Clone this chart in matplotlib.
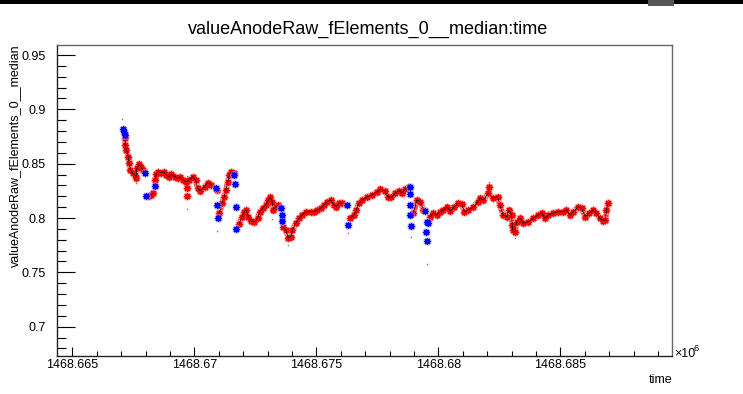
import matplotlib
matplotlib.use("Agg")
import matplotlib.pyplot as plt
from matplotlib.ticker import FixedLocator, FixedFormatter, MultipleLocator
import matplotlib.patches as mpatches

plt.rcParams['font.family'] = ['Liberation Sans', 'DejaVu Sans']

# ---- data (time in units of 10^6 s) ----
time = [
    1468.66708, 1468.66711, 1468.66714, 1468.66716, 1468.66716, 1468.66722, 1468.66729, 1468.66733,
    1468.66738, 1468.66747, 1468.66756, 1468.66760, 1468.66765, 1468.66773, 1468.66783, 1468.66790,
    1468.66799, 1468.66804, 1468.66814, 1468.66824, 1468.66831, 1468.66837, 1468.66840, 1468.66844,
    1468.66851, 1468.66865, 1468.66874, 1468.66885, 1468.66896, 1468.66906, 1468.66919, 1468.66933,
    1468.66940, 1468.66953, 1468.66967, 1468.66978, 1468.66994, 1468.67005, 1468.67014, 1468.67024,
    1468.67042, 1468.67055, 1468.67069, 1468.67087, 1468.67092, 1468.67092, 1468.67096, 1468.67103,
    1468.67114, 1468.67123, 1468.67130, 1468.67137, 1468.67144, 1468.67152, 1468.67161, 1468.67164,
    1468.67168, 1468.67169, 1468.67171, 1468.67183, 1468.67196, 1468.67205, 1468.67212, 1468.67222,
    1468.67232, 1468.67246, 1468.67259, 1468.67269, 1468.67280, 1468.67293, 1468.67304, 1468.67311,
    1468.67320, 1468.67324, 1468.67334, 1468.67345, 1468.67355, 1468.67359, 1468.67359, 1468.67364,
    1468.67375, 1468.67386, 1468.67395, 1468.67402, 1468.67416, 1468.67429, 1468.67443, 1468.67457,
    1468.67477, 1468.67491, 1468.67504, 1468.67518, 1468.67532, 1468.67545, 1468.67559, 1468.67572,
    1468.67582, 1468.67593, 1468.67606, 1468.67627, 1468.67631, 1468.67640, 1468.67654, 1468.67664,
    1468.67674, 1468.67688, 1468.67708, 1468.67729, 1468.67749, 1468.67763, 1468.67780, 1468.67794,
    1468.67808, 1468.67824, 1468.67837, 1468.67851, 1468.67865, 1468.67878, 1468.67882, 1468.67882,
    1468.67885, 1468.67885, 1468.67889, 1468.67898, 1468.67912, 1468.67926, 1468.67939, 1468.67946,
    1468.67953, 1468.67957, 1468.67949, 1468.67953, 1468.67967, 1468.67980, 1468.67994, 1468.68008,
    1468.68021, 1468.68035, 1468.68049, 1468.68066, 1468.68082, 1468.68096, 1468.68107, 1468.68123,
    1468.68143, 1468.68161, 1468.68171, 1468.68184, 1468.68205, 1468.68225, 1468.68243, 1468.68252,
    1468.68266, 1468.68280, 1468.68289, 1468.68300, 1468.68303, 1468.68306, 1468.68314, 1468.68321,
    1468.68335, 1468.68348, 1468.68369, 1468.68389, 1468.68410, 1468.68423, 1468.68437, 1468.68451,
    1468.68471, 1468.68491, 1468.68512, 1468.68525, 1468.68539, 1468.68553, 1468.68573, 1468.68587,
    1468.68603, 1468.68617, 1468.68634, 1468.68648, 1468.68662, 1468.68675, 1468.68685, 1468.68689,
    1468.68696,
]
median = [
    0.8819, 0.8794, 0.8764, 0.8734, 0.8672, 0.8626, 0.8564, 0.8504,
    0.8442, 0.8412, 0.8396, 0.8366, 0.8458, 0.8494, 0.8467, 0.8442,
    0.8417, 0.8206, 0.8206, 0.8212, 0.8228, 0.8295, 0.8350, 0.8405,
    0.8426, 0.8417, 0.8426, 0.8396, 0.8380, 0.8402, 0.8380, 0.8366,
    0.8380, 0.8350, 0.8334, 0.8350, 0.8380, 0.8350, 0.8274, 0.8252,
    0.8288, 0.8325, 0.8304, 0.8274, 0.8258, 0.8120, 0.7998, 0.8044,
    0.8136, 0.8196, 0.8258, 0.8334, 0.8396, 0.8421, 0.8417, 0.8396,
    0.8313, 0.8099, 0.7896, 0.7941, 0.8012, 0.8058, 0.8074, 0.8012,
    0.7973, 0.7966, 0.7998, 0.8058, 0.8090, 0.8120, 0.8166, 0.8191,
    0.8150, 0.8074, 0.8104, 0.8120, 0.8090, 0.8028, 0.7976, 0.7915,
    0.7890, 0.7814, 0.7828, 0.7890, 0.7951, 0.7998, 0.8028, 0.8058,
    0.8058, 0.8058, 0.8074, 0.8090, 0.8120, 0.8150, 0.8166, 0.8120,
    0.8104, 0.8136, 0.8136, 0.8120, 0.7936, 0.7998, 0.8028, 0.8074,
    0.8136, 0.8166, 0.8196, 0.8212, 0.8242, 0.8264, 0.8252, 0.8196,
    0.8191, 0.8228, 0.8252, 0.8233, 0.8264, 0.8288, 0.8283, 0.8221,
    0.8120, 0.8028, 0.7927, 0.8044, 0.8166, 0.8150, 0.8074, 0.8065,
    0.7966, 0.7952, 0.7874, 0.7792, 0.8012, 0.8049, 0.8028, 0.8058,
    0.8074, 0.8099, 0.8067, 0.8104, 0.8136, 0.8129, 0.8058, 0.8074,
    0.8099, 0.8150, 0.8182, 0.8166, 0.8228, 0.8182, 0.8196, 0.8120,
    0.8028, 0.8012, 0.8074, 0.8028, 0.7936, 0.7890, 0.7871, 0.7966,
    0.7998, 0.7951, 0.7966, 0.7998, 0.8028, 0.8049, 0.7998, 0.8028,
    0.8044, 0.8058, 0.8058, 0.8074, 0.8028, 0.8058, 0.8104, 0.8090,
    0.8012, 0.8044, 0.8074, 0.8044, 0.7998, 0.7976, 0.7982, 0.8074,
    0.8136,
]
# 1 = flagged point (blue), 0 = normal point (red)
flagged = [
    1, 1, 1, 0, 0, 0, 0, 0,
    0, 0, 0, 0, 0, 0, 0, 0,
    1, 1, 0, 0, 0, 1, 0, 0,
    0, 0, 0, 0, 0, 0, 0, 0,
    0, 0, 0, 0, 0, 0, 0, 0,
    0, 0, 0, 1, 0, 1, 1, 0,
    0, 0, 0, 0, 0, 0, 0, 1,
    1, 1, 1, 0, 0, 0, 0, 0,
    0, 0, 0, 0, 0, 0, 0, 0,
    0, 0, 0, 0, 1, 1, 1, 0,
    0, 0, 0, 0, 0, 0, 0, 0,
    0, 0, 0, 0, 0, 0, 0, 0,
    0, 0, 0, 1, 1, 0, 0, 0,
    0, 0, 0, 0, 0, 0, 0, 0,
    0, 0, 0, 0, 0, 0, 1, 1,
    1, 1, 1, 0, 0, 0, 0, 1,
    1, 1, 1, 1, 0, 0, 0, 0,
    0, 0, 0, 0, 0, 0, 0, 0,
    0, 0, 0, 0, 0, 0, 0, 0,
    0, 0, 0, 0, 0, 0, 0, 0,
    0, 0, 0, 0, 0, 0, 0, 0,
    0, 0, 0, 0, 0, 0, 0, 0,
    0, 0, 0, 0, 0, 0, 0, 0,
    0,
]
# isolated red points off the main trace
extra_time = [1468.66971, 1468.66971, 1468.68208]
extra_median = [0.8274, 0.8206, 0.8286]
# isolated small grey dots
dot_time = [1468.66704, 1468.66760, 1468.66969, 1468.66971, 1468.67093, 1468.67320,
            1468.67386, 1468.67631, 1468.67889, 1468.67953, 1468.68208, 1468.68313]
dot_median = [0.8908, 0.8325, 0.8390, 0.8080, 0.7883, 0.7991,
              0.7752, 0.7860, 0.7823, 0.7577, 0.8330, 0.7814]

x_ticks = [1468.665, 1468.670, 1468.675, 1468.680, 1468.685]
x_ticklabels = ['1468.665', '1468.67', '1468.675', '1468.68', '1468.685']
y_ticks = [0.70, 0.75, 0.80, 0.85, 0.90, 0.95]
y_ticklabels = ['0.7', '0.75', '0.8', '0.85', '0.9', '0.95']

title = 'valueAnodeRaw_fElements_0__median:time'
ylabel = 'valueAnodeRaw_fElements_0__median'
xlabel = 'time'

# ---- figure ----
W, H = 743, 394
fig = plt.figure(figsize=(W / 100, H / 100), dpi=100)
L, R, T, B = 57.3, 672.3, 44.7, 356.0
ax = fig.add_axes([L / W, 1 - B / H, (R - L) / W, (B - T) / H])

red_t = [t for t, f in zip(time, flagged) if f == 0] + extra_time
red_v = [v for v, f in zip(median, flagged) if f == 0] + extra_median
blue_t = [t for t, f in zip(time, flagged) if f == 1]
blue_v = [v for v, f in zip(median, flagged) if f == 1]

# trace through the normal points, broken at flagged points
line_t, line_v = [], []
for t, v, f in zip(time, median, flagged):
    if f == 1:
        line_t.append(float('nan'))
        line_v.append(float('nan'))
    else:
        line_t.append(t)
        line_v.append(v)

star = (8, 2, 0)
ax.plot(line_t, line_v, color='#ff2020', lw=4.0, alpha=0.85, solid_capstyle='round',
        solid_joinstyle='round', zorder=1)
ax.plot(red_t, red_v, ls='none', marker=star, ms=5.8, mec='#ffb4b4', mew=1.5, zorder=2)
ax.plot(red_t, red_v, ls='none', marker=star, ms=5.0, mec='#ff0000', mew=0.9, zorder=3)
ax.plot(line_t, line_v, color='black', lw=0.5, zorder=4)
ax.plot(blue_t, blue_v, ls='none', marker='o', ms=6.5, mfc='#aab0ff', mec='none', alpha=0.5, zorder=5)
ax.plot(blue_t, blue_v, ls='none', marker=star, ms=5.0, mec='#0000ff', mew=0.9, zorder=6)
ax.plot(dot_time, dot_median, ls='none', marker='s', ms=1.0, mfc='#777777', mec='none', zorder=7)

ax.set_xlim(1468.664385, 1468.689590)
ax.set_ylim(0.673, 0.9595)

ax.xaxis.set_major_locator(FixedLocator(x_ticks))
ax.xaxis.set_major_formatter(FixedFormatter(x_ticklabels))
ax.xaxis.set_minor_locator(MultipleLocator(0.001))
ax.yaxis.set_major_locator(FixedLocator(y_ticks))
ax.yaxis.set_major_formatter(FixedFormatter(y_ticklabels))
ax.yaxis.set_minor_locator(MultipleLocator(0.01))

ax.tick_params(axis='both', which='both', direction='in', top=False, right=False,
               colors='black', width=0.8, labelsize=9)
ax.tick_params(axis='x', which='major', length=9.3 * 0.72, pad=2.5)
ax.tick_params(axis='x', which='minor', length=4.6 * 0.72)
ax.tick_params(axis='y', which='major', length=18 * 0.72, pad=8.5)
ax.tick_params(axis='y', which='minor', length=9 * 0.72)
for s in ['left', 'bottom']:
    ax.spines[s].set_color('#222222')
    ax.spines[s].set_linewidth(1.0)
for s in ['top', 'right']:
    ax.spines[s].set_color('#666666')
    ax.spines[s].set_linewidth(1.0)

fig.text(368 / W, 1 - 34 / H, title, ha='center', va='baseline', fontsize=13)
fig.text(15 / W, 1 - T / H, ylabel, rotation=90, ha='center', va='top', fontsize=9)
fig.text(R / W, 1 - 383 / H, xlabel, ha='right', va='baseline', fontsize=9)
fig.text(674 / W, 1 - 357 / H, '×10', ha='left', va='baseline', fontsize=9)
fig.text(694 / W, 1 - 351 / H, '6', ha='left', va='baseline', fontsize=6.5)

# top window border strip of the screenshot
fig.add_artist(mpatches.Rectangle((0, 1 - 4 / H), 1, 4 / H, transform=fig.transFigure,
                                  facecolor='black', edgecolor='none'))
fig.add_artist(mpatches.Rectangle((648 / W, 1 - 6 / H), 26 / W, 6 / H, transform=fig.transFigure,
                                  facecolor='#555555', edgecolor='none'))

fig.savefig('out.png', dpi=100)
